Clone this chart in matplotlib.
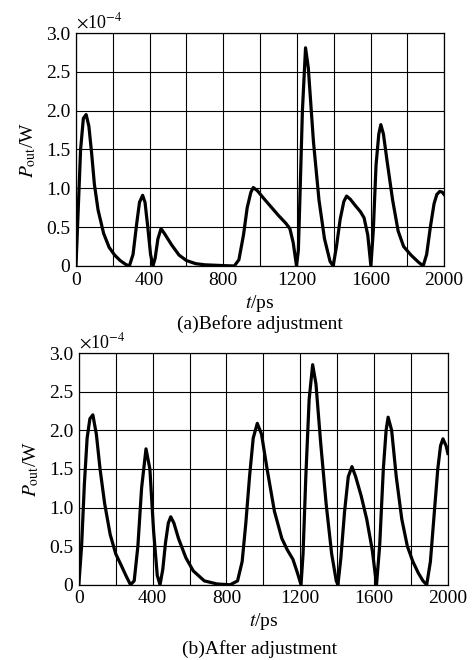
import matplotlib
matplotlib.use('Agg')
import matplotlib.pyplot as plt

plt.rcParams['font.family'] = ['Liberation Serif', 'DejaVu Serif']
plt.rcParams['mathtext.fontset'] = 'stix'

# (a) before adjustment, P_out in units of 1e-4 W
t_a = [0, 10, 25, 40, 55, 70, 85, 100, 120, 150, 180, 210, 240, 270, 290,
       310, 330, 345, 362, 375, 390, 405, 418, 430, 445, 462, 480, 520, 560,
       600, 650, 700, 800, 860, 885, 910, 930, 950, 963, 985, 1020, 1060,
       1100, 1140, 1162, 1180, 1198, 1208, 1218, 1230, 1247, 1262, 1290,
       1320, 1350, 1380, 1397, 1415, 1435, 1455, 1470, 1490, 1520, 1545,
       1565, 1585, 1602, 1615, 1630, 1645, 1656, 1670, 1690, 1720, 1750,
       1780, 1820, 1860, 1886, 1905, 1925, 1945, 1960, 1976, 1990, 2000]
p_a = [0, 0.6, 1.5, 1.9, 1.95, 1.8, 1.45, 1.05, 0.72, 0.42, 0.24, 0.14,
       0.07, 0.02, 0.0, 0.15, 0.55, 0.82, 0.91, 0.82, 0.5, 0.15, 0.0, 0.1,
       0.35, 0.48, 0.42, 0.27, 0.14, 0.07, 0.03, 0.015, 0.005, 0.0, 0.08,
       0.4, 0.75, 0.95, 1.01, 0.97, 0.87, 0.76, 0.65, 0.55, 0.48, 0.3, 0.0,
       0.2, 1.0, 2.0, 2.81, 2.55, 1.6, 0.85, 0.35, 0.06, 0.0, 0.25, 0.6,
       0.83, 0.9, 0.86, 0.77, 0.7, 0.62, 0.4, 0.0, 0.45, 1.3, 1.7, 1.82,
       1.7, 1.35, 0.85, 0.45, 0.25, 0.14, 0.05, 0.0, 0.15, 0.5, 0.8, 0.92,
       0.96, 0.95, 0.92]

# (b) after adjustment
t_b = [0, 15, 30, 45, 60, 76, 95, 115, 140, 170, 200, 230, 255, 280, 300,
       320, 340, 364, 385, 405, 425, 440, 455, 470, 485, 498, 515, 540, 580,
       620, 680, 750, 820, 860, 885, 905, 925, 945, 967, 990, 1020, 1060,
       1100, 1130, 1160, 1185, 1204, 1215, 1230, 1248, 1267, 1285, 1310,
       1340, 1370, 1395, 1404, 1420, 1440, 1460, 1480, 1500, 1530, 1560,
       1590, 1613, 1630, 1650, 1665, 1676, 1695, 1720, 1750, 1780, 1810,
       1840, 1865, 1885, 1905, 1925, 1945, 1960, 1973, 1990, 2000]
p_b = [0, 0.5, 1.3, 1.9, 2.15, 2.2, 1.95, 1.5, 1.05, 0.65, 0.4, 0.25,
       0.12, 0.0, 0.05, 0.5, 1.25, 1.76, 1.5, 0.7, 0.12, 0.0, 0.2, 0.55,
       0.8, 0.88, 0.8, 0.6, 0.35, 0.18, 0.05, 0.01, 0.0, 0.05, 0.3, 0.8,
       1.4, 1.9, 2.09, 1.95, 1.5, 0.95, 0.6, 0.45, 0.33, 0.15, 0.0, 0.4,
       1.4, 2.4, 2.85, 2.6, 1.85, 1.05, 0.4, 0.05, 0.0, 0.35, 0.95, 1.4,
       1.53, 1.4, 1.15, 0.85, 0.45, 0.0, 0.5, 1.5, 2.0, 2.17, 2.0, 1.4,
       0.85, 0.5, 0.3, 0.15, 0.05, 0.0, 0.3, 0.9, 1.5, 1.8, 1.89, 1.8, 1.7]

x_ticks = [0, 400, 800, 1200, 1600, 2000]
y_ticks = [0, 0.5, 1.0, 1.5, 2.0, 2.5, 3.0]
y_labels = ['0', '0.5', '1.0', '1.5', '2.0', '2.5', '3.0']

fig = plt.figure(figsize=(4.72, 6.6), dpi=100)
ax_a = fig.add_axes([0.161, 0.597, 0.780, 0.353])
ax_b = fig.add_axes([0.167, 0.114, 0.782, 0.351])

panels = [(ax_a, t_a, p_a, '(a)Before adjustment', 0.509),
          (ax_b, t_b, p_b, '(b)After adjustment', 0.016)]

for ax, t, p, cap, cap_y in panels:
    ax.plot(t, p, color='black', lw=2.3, solid_joinstyle='round')
    ax.set_xlim(0, 2000)
    ax.set_ylim(0, 3.0)
    ax.set_xticks(range(0, 2001, 200), minor=True)
    ax.set_xticks(x_ticks)
    ax.set_yticks(y_ticks)
    ax.set_yticklabels(y_labels)
    ax.grid(True, which='both', color='black', lw=0.8)
    ax.tick_params(which='both', length=0, labelsize=14, pad=4)
    for s in ax.spines.values():
        s.set_linewidth(0.9)
    ax.set_xlabel(r'$t$/ps', fontsize=14, labelpad=3)
    ax.set_ylabel(r'$P_{\rm out}$/W', fontsize=14, labelpad=6)
    ax.text(0.0, 1.005, r'$\times$10$^{-4}$', transform=ax.transAxes,
            fontsize=13, ha='left', va='bottom')
    fig.text(0.55, cap_y, cap, fontsize=14, ha='center', va='center')

fig.savefig('out.png', dpi=100)
